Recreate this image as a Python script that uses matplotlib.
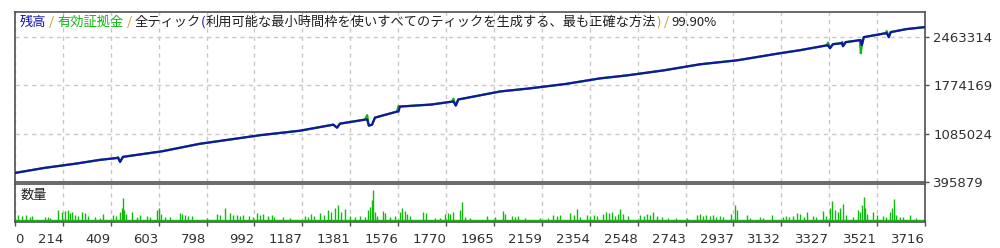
import numpy as np
import matplotlib
matplotlib.use('Agg')
import matplotlib.pyplot as plt

# balance / equity curve (trade number -> account value)
trades = [0, 120, 250, 347, 418, 421, 429, 441, 600, 755, 900, 1000, 1164, 1300, 1315, 1327,
          1429, 1438, 1445, 1458, 1470, 1560, 1566, 1572, 1700, 1785, 1790, 1800, 1810, 1981,
          2100, 2250, 2389, 2500, 2650, 2797, 2950, 3124, 3205, 3315, 3320, 3328, 3340, 3375,
          3378, 3381, 3392, 3450, 3454, 3458, 3466, 3555, 3560, 3568, 3576, 3640, 3716]
balance = [525092, 596877, 658611, 711733, 739000, 740447, 683019, 754804, 833768, 941445,
           1013230, 1063480, 1128086, 1214228, 1171157, 1228585, 1286013, 1288000, 1199871,
           1214228, 1314727, 1400869, 1402000, 1472654, 1501368, 1543000, 1544439, 1487011,
           1573153, 1688009, 1731080, 1795687, 1874650, 1917721, 1989506, 2075648, 2133076,
           2233575, 2276646, 2346000, 2348431, 2305360, 2362788, 2377145, 2378000, 2334074,
           2391502, 2420216, 2421000, 2348431, 2463287, 2519000, 2520715, 2463287, 2535072,
           2578143, 2606857]
equity = [525092, 596877, 658611, 711733, 739000, 752000, 683019, 754804, 833768, 941445,
          1013230, 1063480, 1128086, 1214228, 1171157, 1228585, 1286013, 1350000, 1199871,
          1214228, 1314727, 1400869, 1480000, 1472654, 1501368, 1543000, 1585000, 1487011,
          1573153, 1688009, 1731080, 1795687, 1874650, 1917721, 1989506, 2075648, 2133076,
          2233575, 2276646, 2346000, 2385000, 2305360, 2362788, 2377145, 2395000, 2334074,
          2391502, 2420216, 2233575, 2348431, 2463287, 2519000, 2550000, 2463287, 2535072,
          2578143, 2606857]

# volume panel (trade number -> volume)
vol_trades = [12, 29, 45, 61, 69, 123, 135, 143, 176, 192, 204, 216, 225, 233, 245, 257, 274,
              286, 298, 327, 347, 359, 400, 412, 429, 437, 441, 445, 453, 478, 498, 510, 539,
              551, 580, 588, 596, 613, 633, 674, 682, 694, 706, 723, 784, 825, 837, 858, 878,
              890, 907, 919, 931, 956, 972, 988, 1000, 1013, 1033, 1049, 1058, 1094, 1123,
              1184, 1196, 1209, 1221, 1245, 1262, 1278, 1290, 1307, 1319, 1331, 1348, 1368,
              1388, 1409, 1429, 1441, 1450, 1458, 1462, 1470, 1478, 1503, 1511, 1531, 1552,
              1572, 1580, 1593, 1601, 1613, 1666, 1678, 1715, 1735, 1756, 1768, 1776, 1789,
              1817, 1825, 1838, 1858, 1927, 1960, 1993, 2001, 2029, 2042, 2054, 2083, 2144,
              2177, 2197, 2213, 2226, 2266, 2283, 2295, 2307, 2336, 2348, 2364, 2377, 2401,
              2413, 2426, 2438, 2450, 2462, 2470, 2483, 2503, 2552, 2569, 2581, 2593, 2605,
              2622, 2642, 2667, 2699, 2744, 2785, 2797, 2810, 2822, 2838, 2850, 2863, 2879,
              2891, 2924, 2940, 2948, 2989, 3001, 3042, 3054, 3091, 3136, 3148, 3161, 3177,
              3193, 3206, 3222, 3234, 3259, 3271, 3300, 3312, 3328, 3336, 3348, 3361, 3369,
              3381, 3393, 3422, 3442, 3450, 3459, 3467, 3471, 3479, 3504, 3520, 3544, 3557,
              3573, 3581, 3589, 3598, 3614, 3626, 3655, 3679]
volumes = [5, 4, 5, 3, 4, 3, 3, 2, 10, 8, 9, 10, 7, 8, 5, 4, 8, 7, 4, 3, 2, 6, 5, 4, 8, 12,
           22, 10, 6, 8, 3, 5, 4, 3, 10, 12, 6, 3, 3, 7, 6, 5, 4, 4, 2, 6, 5, 12, 7, 5, 5, 4,
           5, 4, 3, 7, 5, 6, 4, 5, 3, 3, 2, 4, 3, 6, 4, 7, 5, 10, 8, 12, 15, 8, 11, 4, 3, 4,
           3, 10, 13, 20, 30, 8, 4, 9, 7, 3, 4, 8, 12, 9, 6, 4, 8, 7, 2, 2, 6, 7, 6, 8, 10,
           18, 3, 2, 4, 3, 9, 6, 4, 3, 4, 2, 2, 2, 5, 4, 5, 7, 5, 11, 3, 5, 4, 5, 4, 6, 8, 7,
           8, 4, 6, 11, 6, 4, 5, 4, 6, 5, 8, 4, 3, 2, 2, 2, 5, 6, 4, 5, 4, 5, 3, 4, 3, 6, 15,
           10, 5, 2, 3, 2, 5, 3, 4, 3, 4, 7, 6, 3, 8, 4, 3, 9, 4, 12, 19, 10, 8, 12, 16, 5, 3,
           10, 8, 15, 23, 12, 6, 8, 5, 4, 3, 8, 12, 21, 5, 3, 3, 5, 2]

y_ticks = [395879, 1085024, 1774169, 2463314]
x_labels = ['0', '214', '409', '603', '798', '992', '1187', '1381', '1576', '1770', '1965',
            '2159', '2354', '2548', '2743', '2937', '3132', '3327', '3521', '3716']

blue = '#1414a8'
green = '#10b810'
orange = '#e08a1c'
spine_col = '#505050'
grid_col = '#c8c8c8'

fig = plt.figure(figsize=(10, 2.48), dpi=100)
ax = fig.add_axes([0.015, 66 / 248, 0.910, 170 / 248])
axv = fig.add_axes([0.015, 26 / 248, 0.910, 38 / 248])

x_max = 3716
x_pos = np.linspace(0, x_max, len(x_labels))

# main panel
ax.plot(trades, equity, color=green, lw=1.6, zorder=2)
ax.plot(trades, balance, color=blue, lw=1.6, zorder=3)
ax.set_xlim(0, x_max)
ax.set_ylim(395879, 2822159)
ax.set_yticks(y_ticks)
ax.set_yticklabels([str(v) for v in y_ticks])
ax.yaxis.tick_right()
ax.set_xticks(x_pos)
ax.tick_params(axis='x', length=0, labelbottom=False)
ax.tick_params(axis='y', length=3, width=1, color=spine_col, pad=3,
               labelsize=9.5, labelcolor='#303030')
ax.grid(True, color=grid_col, linestyle=(0, (3, 3)), lw=1)

# volume panel
axv.vlines(vol_trades, 0, volumes, color=green, lw=1)
axv.axhline(0, color=green, lw=1)
axv.set_xlim(0, x_max)
axv.set_ylim(-1.5, 36)
axv.set_yticks([])
axv.set_xticks(x_pos)
axv.set_xticklabels(x_labels)
axv.tick_params(axis='x', length=3, width=1, color=spine_col, pad=5,
                labelsize=9.5, labelcolor='#303030')
for i, lab in enumerate(axv.get_xticklabels()):
    lab.set_horizontalalignment('left' if i == 0 else 'right')
axv.grid(True, axis='x', color=grid_col, linestyle=(0, (3, 3)), lw=1)
axv.text(0.006, 0.7, '数量', transform=axv.transAxes, fontsize=9.5, va='center',
         family=['Noto Sans CJK JP', 'DejaVu Sans'], color='#202020')

for a in (ax, axv):
    for s in a.spines.values():
        s.set_color(spine_col)
        s.set_linewidth(1.2)

# multi-coloured title
parts = [('残高', blue), (' / ', orange), ('有効証拠金', green), (' / ', orange),
         ('全ティック', '#202020'), ('(', blue),
         ('利用可能な最小時間枠を使いすべてのティックを生成する、最も正確な方法', '#202020'),
         (')', orange), (' / ', orange), ('99.90%', '#202020')]
renderer = fig.canvas.get_renderer()
x = 20 / 1000
for s, c in parts:
    t = fig.text(x, 1 - 22 / 248, s, color=c, fontsize=9.5, va='center',
                 family=['Noto Sans CJK JP', 'DejaVu Sans'])
    x += t.get_window_extent(renderer).width / 1000

fig.savefig('out.png', dpi=100)
